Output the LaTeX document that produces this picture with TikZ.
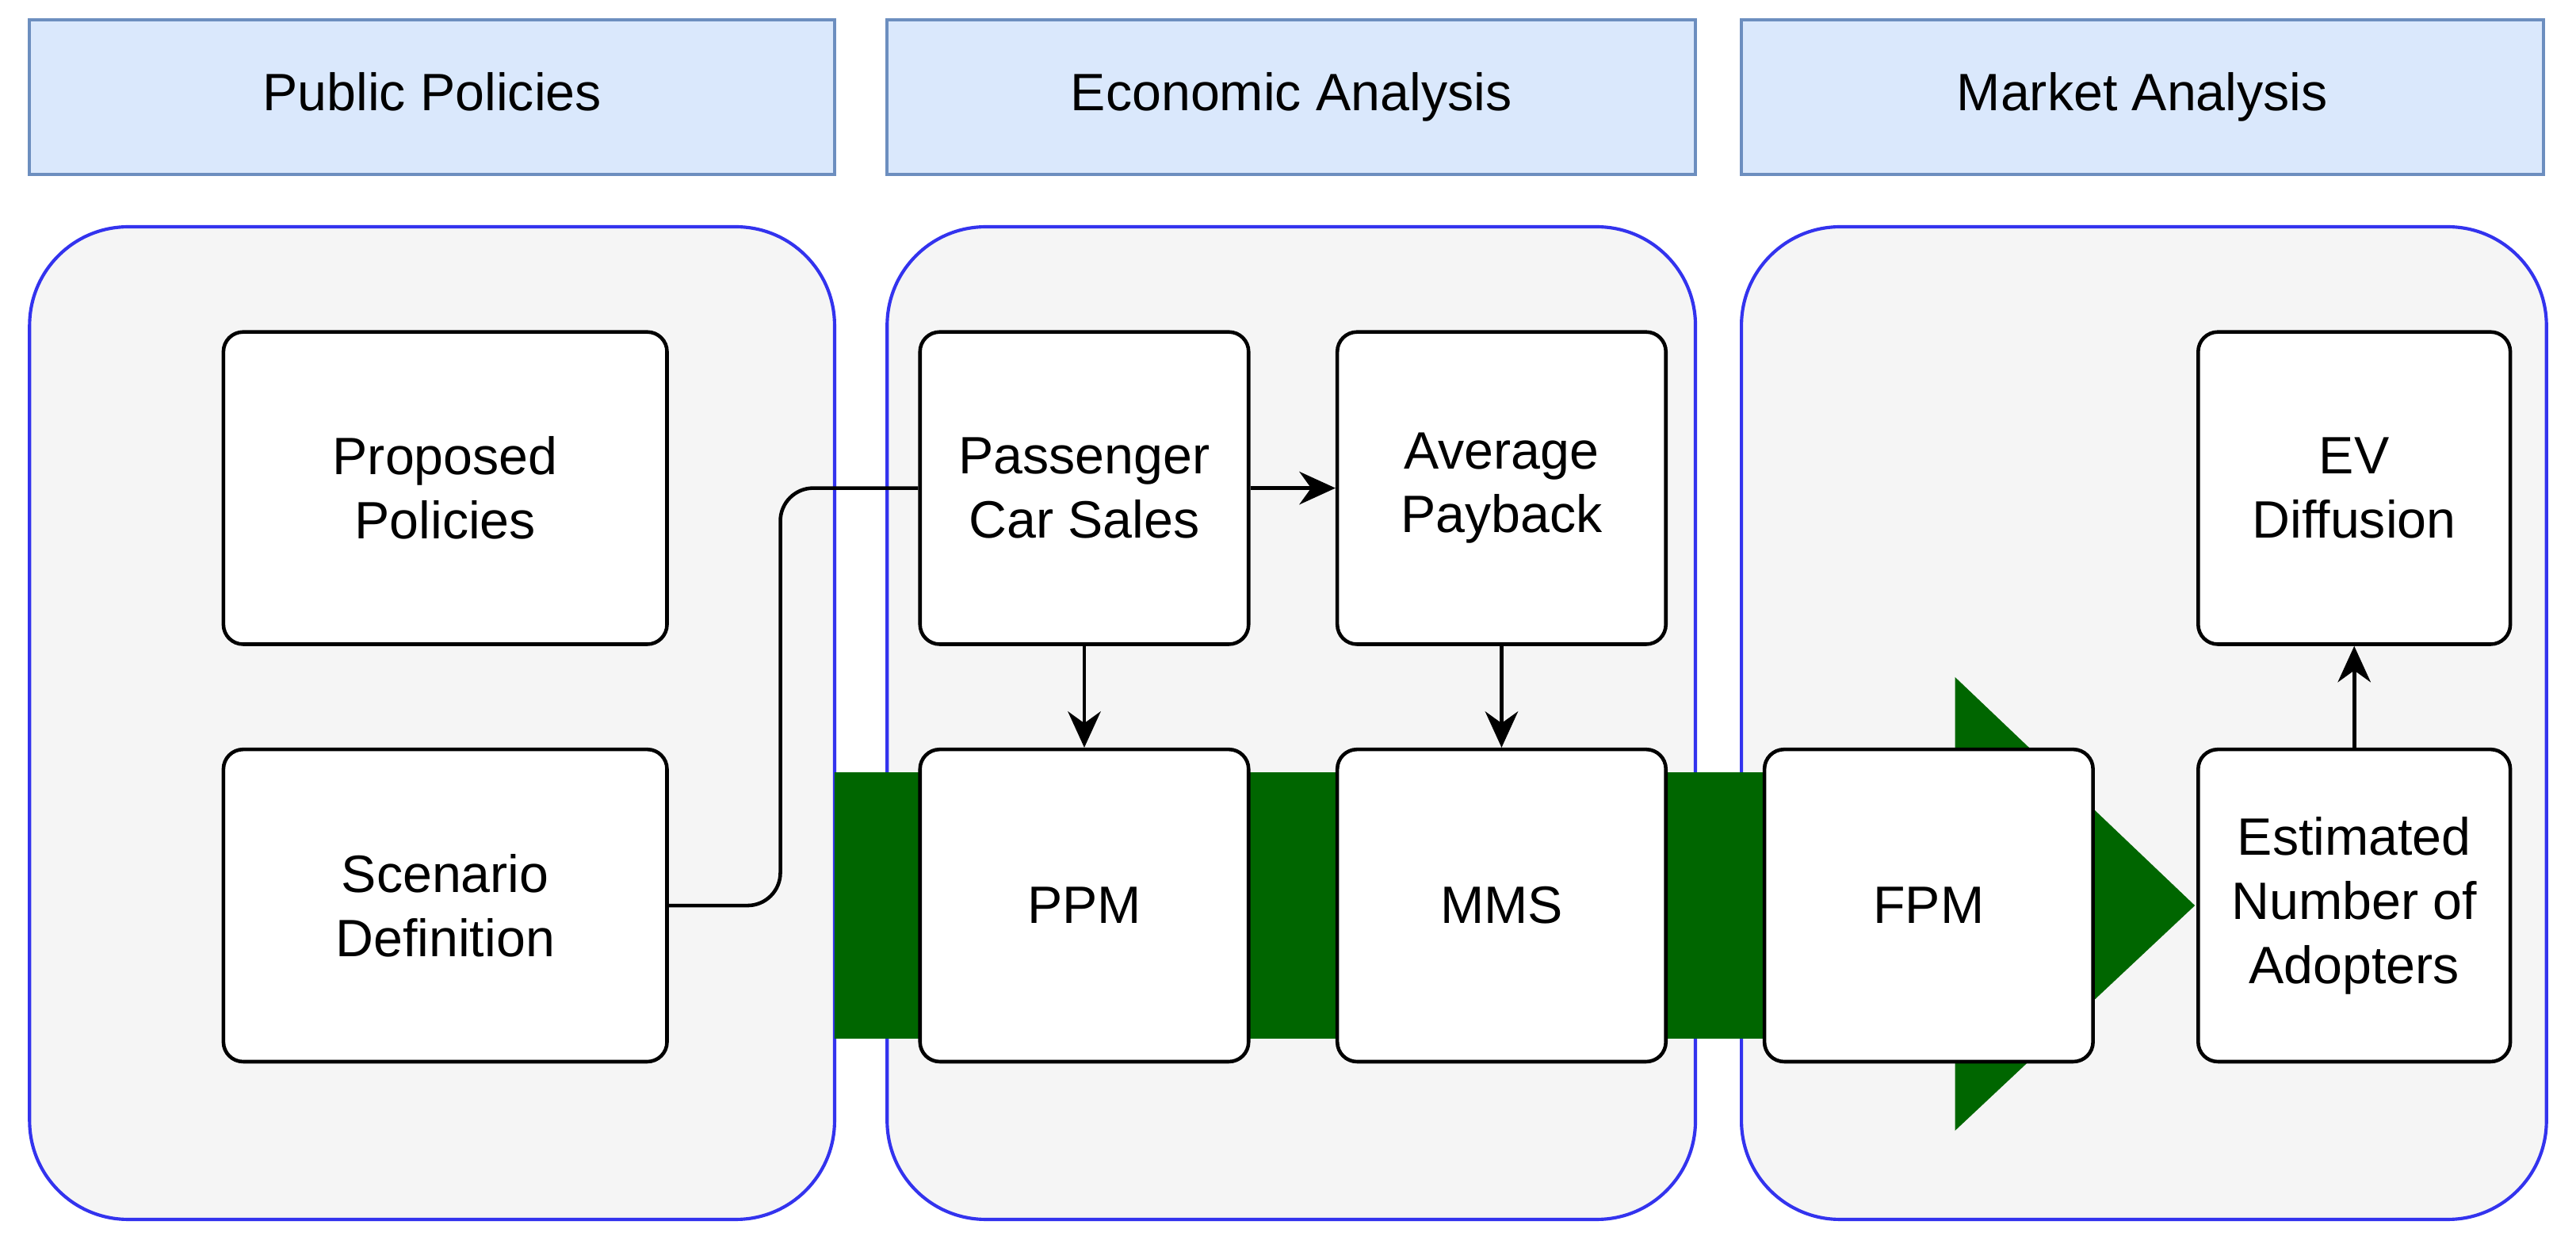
\documentclass[tikz,border=0pt]{standalone}
\usepackage{fontspec}
\setmainfont{Liberation Sans}
\usetikzlibrary{arrows.meta}
\begin{document}
\begin{tikzpicture}[x=0.5pt,y=-0.5pt,
  hdr/.style={draw=hdrb,fill=hdrf,line width=1pt},
  panel/.style={draw=panb,fill=panf,line width=1pt,rounded corners=30pt},
  box/.style={draw=black,fill=white,line width=1.1pt,rounded corners=6pt,minimum height=95pt,inner sep=0pt},
  nb/.style={box,minimum width=100pt},
  wb/.style={box,minimum width=135pt},
  eb/.style={box,minimum width=95pt},
  lab/.style={font=\fontsize{16}{19.5}\selectfont,align=center},
  hl/.style={lab,text height=12pt,text depth=3.5pt},
  arr/.style={line width=1.1pt,-{Stealth[length=11pt,width=10pt]}}]
\definecolor{hdrf}{HTML}{DAE8FC}
\definecolor{hdrb}{HTML}{6C8EBF}
\definecolor{panf}{HTML}{F5F5F5}
\definecolor{panb}{HTML}{3333EE}
\definecolor{grn}{HTML}{006600}
\useasboundingbox (0,0) rectangle (1568,759);
% headers
\draw[hdr] (18,12) rectangle (508,106);
\node[hl] (h1) at (263,59) {Public Policies};
\draw[hdr] (540,12) rectangle (1032,106);
\node[hl] (h2) at (786,59) {Economic Analysis};
\draw[hdr] (1060,12) rectangle (1548,106);
\node[hl] (h3) at (1304,59) {Market Analysis};
% panels
\draw[panel] (18,138) rectangle (508,742);
\draw[panel] (540,138) rectangle (1032,742);
\draw[panel] (1060,138) rectangle (1550,742);
% green arrow
\fill[grn] (508,470) -- (1190,470) -- (1190,412) -- (1336,551) -- (1190,688) -- (1190,632) -- (508,632) -- cycle;
% boxes
\node[wb,lab] (pp) at (271,297) {Proposed\\Policies};
\node[wb,lab] (sd) at (271,551) {Scenario\\Definition};
\node[nb,lab] (pcs) at (660,297) {Passenger\\Car Sales};
\node[nb,lab] (ap) at (914,297) {Average\\Payback};
\node[nb,lab] (ppm) at (660,551) {PPM};
\node[nb,lab] (mms) at (914,551) {MMS};
\node[nb,lab] (fpm) at (1174,551) {FPM};
\node[eb,lab] (ev) at (1433,297) {EV\\Diffusion};
\node[eb,lab] (ena) at (1433,551) {Estimated\\Number of\\Adopters};
\draw[line width=1.1pt,rounded corners=10pt] (sd.east) -- (475,551) -- (475,297) -- (pcs.west);
\draw[arr] (pcs) -- (ap);
\draw[arr] (pcs) -- (ppm);
\draw[arr] (ap) -- (mms);
\draw[arr] (ena) -- (ev);
\end{tikzpicture}
\end{document}
